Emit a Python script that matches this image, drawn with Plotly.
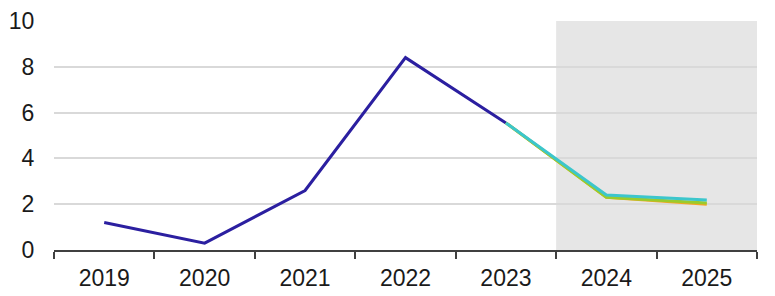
import plotly.graph_objects as go

years = ["2019", "2020", "2021", "2022", "2023", "2024", "2025"]
history = [1.2, 0.3, 2.6, 8.4, 5.55, None, None]
forecast_orange = [None, None, None, None, 5.55, 2.3, 2.0]
forecast_green = [None, None, None, None, 5.55, 2.3, 2.05]
forecast_teal = [None, None, None, None, 5.55, 2.4, 2.18]
y_ticks = [0, 2, 4, 6, 8, 10]

fig = go.Figure()
fig.add_trace(go.Scatter(x=years, y=history, mode="lines",
                         line=dict(color="#2B1FA0", width=3), connectgaps=False))
fig.add_trace(go.Scatter(x=years, y=forecast_orange, mode="lines",
                         line=dict(color="#F5A623", width=3)))
fig.add_trace(go.Scatter(x=years, y=forecast_green, mode="lines",
                         line=dict(color="#9BCB2C", width=3)))
fig.add_trace(go.Scatter(x=years, y=forecast_teal, mode="lines",
                         line=dict(color="#3CC6CC", width=3)))

fig.add_shape(type="rect", xref="x", yref="paper", x0=4.5, x1=6.5, y0=0, y1=1,
              fillcolor="#E6E6E6", line=dict(width=0), layer="below")

fig.update_layout(
    width=775, height=296,
    margin=dict(l=54, r=18, t=21, b=46),
    paper_bgcolor="white", plot_bgcolor="white",
    showlegend=False,
    font=dict(family="Liberation Sans, Arial, sans-serif", size=23, color="#1a1a1a"),
)
fig.update_xaxes(
    type="category", range=[-0.5, 6.5], tickson="boundaries", automargin=False,
    ticks="outside", ticklen=7, tickwidth=2, tickcolor="#404040",
    showline=True, linecolor="#404040", linewidth=2,
    showgrid=False, tickfont=dict(size=23), ticklabelstandoff=6,
)
fig.update_yaxes(
    range=[0, 10], tickvals=y_ticks, ticktext=[str(v) for v in y_ticks],
    automargin=False,
    showgrid=True, gridcolor="#D9D9D9", gridwidth=1.5,
    zeroline=False, showline=False,
    ticks="outside", ticklen=14, tickcolor="rgba(0,0,0,0)",
    tickfont=dict(size=23),
)
fig.write_html("out.html")
